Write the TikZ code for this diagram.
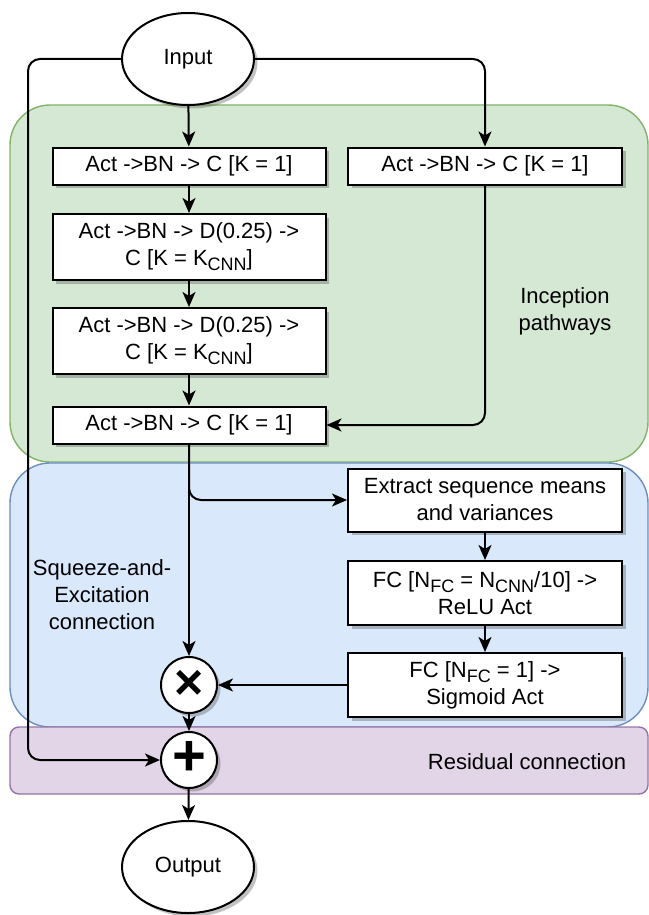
\documentclass[tikz,border=0pt]{standalone}
\usepackage{fontspec}
\setmainfont{Liberation Sans}
\usetikzlibrary{arrows.meta,shapes.geometric,shadows}
\newcommand\sbs[1]{\raisebox{-0.22em}{\fontsize{18}{18}\selectfont #1}}
\begin{document}
\begin{tikzpicture}[x=1pt,y=-1pt,
  font=\fontsize{22}{27}\selectfont,
  shad/.style={drop shadow={shadow xshift=3.5pt,shadow yshift=-3.5pt,opacity=0.35,fill=black!70}},
  blk/.style={draw=black,fill=white,line width=2pt,align=center,inner sep=0pt,shad},
  ell/.style={ellipse,draw=black,fill=white,line width=2pt,inner sep=0pt,minimum width=132pt,minimum height=92pt,shad},
  op/.style={circle,draw=black,fill=white,line width=2pt,inner sep=0pt,minimum size=56pt,shad},
  conn/.style={line width=2pt,-{Stealth[length=15pt,width=13pt,inset=4pt]},rounded corners=12pt},
  region/.style={line width=1.4pt},
  lbl/.style={align=center,inner sep=0pt}]
\useasboundingbox (0,0) rectangle (648,915);
% regions
\draw[region,draw={rgb,255:red,130;green,179;blue,102},fill={rgb,255:red,213;green,232;blue,212},rounded corners=40pt] (10,105) rectangle (648,462);
\draw[region,draw={rgb,255:red,108;green,142;blue,191},fill={rgb,255:red,218;green,232;blue,252},rounded corners=40pt] (10,463) rectangle (648,727);
\draw[region,draw={rgb,255:red,150;green,115;blue,166},fill={rgb,255:red,225;green,213;blue,231},rounded corners=9pt] (10,727) rectangle (648,794);
% region labels
\node[lbl] (lincep) at (565,311) {Inception\\pathways};
\node[lbl] (lse) at (102,595) {Squeeze-and-\\Excitation\\connection};
\node[lbl] (lres) at (527,762) {Residual connection};
% nodes
\node[ell] (inp) at (188,59) {Input};
\node[blk,minimum width=273pt,minimum height=37pt] (b1) at (189,166) {Act ->BN -> C [K = 1]};
\node[blk,minimum width=274pt,minimum height=37pt] (bR) at (485,166) {Act ->BN -> C [K = 1]};
\node[blk,minimum width=273pt,minimum height=66pt] (b2) at (189,247) {Act ->BN -> D(0.25) ->\\C [K = K\sbs{CNN}]};
\node[blk,minimum width=273pt,minimum height=66pt] (b3) at (189,341) {Act ->BN -> D(0.25) ->\\C [K = K\sbs{CNN}]};
\node[blk,minimum width=273pt,minimum height=37pt] (b4) at (189,425) {Act ->BN -> C [K = 1]};
\node[blk,minimum width=274pt,minimum height=63pt] (ext) at (485,500) {Extract sequence means\\and variances};
\node[blk,minimum width=274pt,minimum height=64pt] (fc1) at (485,593) {FC [N\sbs{FC} = N\sbs{CNN}/10] ->\\ReLU Act};
\node[blk,minimum width=274pt,minimum height=64pt] (fc2) at (485,685) {FC [N\sbs{FC} = 1] ->\\Sigmoid Act};
\node[op,label={[yshift=0pt]center:{\fontsize{50}{50}\selectfont\bfseries ×}}] (mul) at (189,685) {};
\node[op,label={[yshift=1.5pt]center:{\fontsize{58}{58}\selectfont\bfseries +}}] (plus) at (189,760) {};
\node[ell] (out) at (188,867) {Output};
\coordinate (resL) at (28,760);
% connectors
\draw[conn] (inp) -- (b1);
\draw[conn] (inp.east) -| (bR.north);
\draw[conn] (inp.west) -| (resL) -- (plus.west);
\draw[conn] (b1) -- (b2);
\draw[conn] (b2) -- (b3);
\draw[conn] (b3) -- (b4);
\draw[conn] (bR.south) |- (b4.east);
\draw[conn] (b4) -- (mul);
\draw[conn] (b4.south) |- (ext.west);
\draw[conn] (ext) -- (fc1);
\draw[conn] (fc1) -- (fc2);
\draw[conn] (fc2) -- (mul);
\draw[conn] (mul) -- (plus);
\draw[conn] (plus) -- (out);
\end{tikzpicture}
\end{document}
